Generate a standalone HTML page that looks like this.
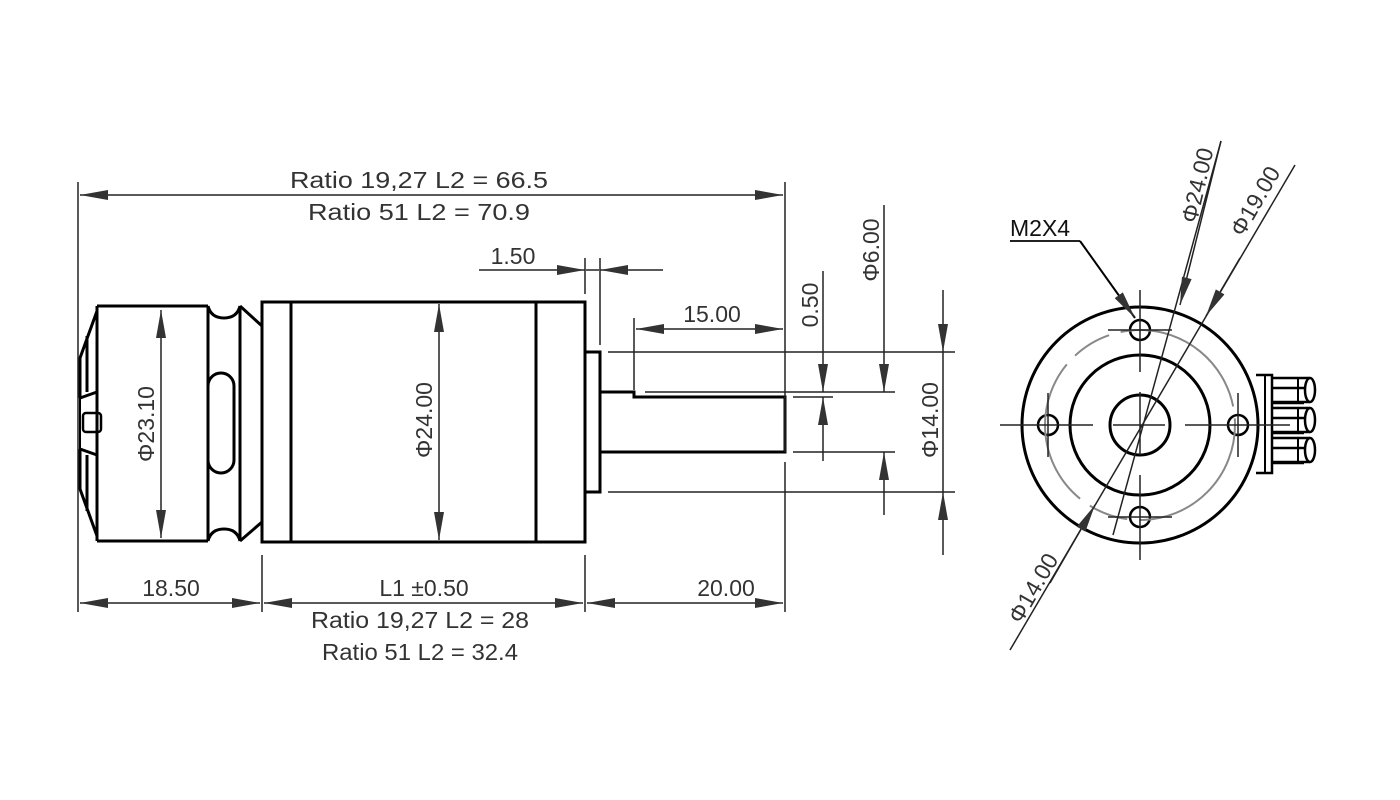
<!DOCTYPE html>
<html><head><meta charset="utf-8"><style>html,body{margin:0;padding:0;background:#fff}svg{display:block}text{font-family:"Liberation Sans",sans-serif;font-size:23px;fill:#333}</style></head>
<body>
<svg width="1400" height="800" viewBox="0 0 1400 800" xmlns="http://www.w3.org/2000/svg">
<defs>
<marker id="a" viewBox="0 0 28 10" refX="28" refY="5" markerWidth="28" markerHeight="10" markerUnits="userSpaceOnUse" orient="auto-start-reverse"><path d="M0,0L28,5L0,10z" fill="#333"/></marker>
</defs>
<g stroke="#000" stroke-width="3" fill="none">
<path d="M262,302 V542 M97,306 H208 M97,541 H208 M208,306 V541 M240,306 V541"/>
<path d="M208,306 Q211,318 224,318 Q237,318 240,306 M208,541 Q211,529 224,529 Q237,529 240,541"/>
<path d="M240,306 L262,326 M240,541 L262,522"/>
<rect x="208" y="373" width="26" height="100" rx="13"/>
<path d="M97,306 V541 M97,311 L80,358 V398 M97,311 V392 M87,336 V392 M80,398 L97,392"/>
<path d="M97,536 L80,489 V449 M97,536 V455 M87,511 V455 M80,449 L97,455"/>
<path d="M80,398 V449" stroke-width="2"/>
<rect x="83" y="413" width="18" height="19" rx="3" stroke-width="2.5"/>
<rect x="262" y="302" width="323" height="240"/>
<path d="M291,302 V542 M536,302 V542"/>
<rect x="585" y="352" width="15" height="140"/>
<path d="M600,392 H634 V397 H785 V452 H600"/>
<circle cx="1140" cy="425" r="118"/>
<circle cx="1140" cy="425" r="70"/>
<circle cx="1140" cy="425" r="30"/>
<circle cx="1140" cy="330" r="10" stroke-width="2.5"/>
<circle cx="1140" cy="517" r="10" stroke-width="2.5"/>
<circle cx="1048" cy="425" r="10" stroke-width="2.5"/>
<circle cx="1238" cy="425" r="10" stroke-width="2.5"/>
<path d="M1256,375 H1272 V473 H1256 M1272,388 H1304 M1272,403 H1304 M1272,418 H1304 M1272,433 H1304 M1272,448 H1304 M1272,463 H1304" stroke-width="2.5"/>
<path d="M1298,378 V403 M1298,408 V433 M1298,438 V463 M1265,375 V473" stroke-width="2"/>
<ellipse cx="1310" cy="390" rx="5" ry="12" stroke-width="2.5"/>
<ellipse cx="1310" cy="420" rx="5" ry="12" stroke-width="2.5"/>
<ellipse cx="1310" cy="450" rx="5" ry="12" stroke-width="2.5"/>
<path d="M1272,378 H1310 M1272,402 H1310 M1272,408 H1310 M1272,432 H1310 M1272,438 H1310 M1272,462 H1310" stroke-width="2.5"/>
</g>
<circle cx="1140" cy="425" r="95" stroke="#888" stroke-width="2" fill="none" stroke-dasharray="150 12 40 12"/>
<g stroke="#222" stroke-width="1.5" fill="none">
<path d="M1000,425 H1093 M1113,425 H1165 M1185,425 H1290 M1140,290 V372 M1140,392 V455 M1140,475 V560 M1108,330 H1172 M1108,517 H1172 M1048,393 V457 M1238,393 V457"/>
<path d="M78,182 V612 M785,182 V452 M785,462 V612 M262,555 V612 M585,555 V612 M585,258 V294 M600,258 V345"/>
<path d="M608,352 H955 M608,492 H955 M645,392 H895 M793,452 H895 M793,397 H833 M634,318 V390"/>
<path d="M80,195 H783" marker-start="url(#a)" marker-end="url(#a)"/>
<path d="M80,603 H260" marker-start="url(#a)" marker-end="url(#a)"/>
<path d="M264,603 H583" marker-start="url(#a)" marker-end="url(#a)"/>
<path d="M587,603 H783" marker-start="url(#a)" marker-end="url(#a)"/>
<path d="M636,329 H783" marker-start="url(#a)" marker-end="url(#a)"/>
<path d="M479,270 H585" marker-end="url(#a)"/>
<path d="M663,270 H600" marker-end="url(#a)"/>
<path d="M586,270 H599"/>
<path d="M161,310 V538" marker-start="url(#a)" marker-end="url(#a)"/>
<path d="M439,304 V540" marker-start="url(#a)" marker-end="url(#a)"/>
<path d="M823,271 V392" marker-end="url(#a)"/>
<path d="M823,461 V397" marker-end="url(#a)"/>
<path d="M884,205 V392" marker-end="url(#a)"/>
<path d="M884,515 V452" marker-end="url(#a)"/>
<path d="M943,290 V352" marker-end="url(#a)"/>
<path d="M943,555 V492" marker-end="url(#a)"/>
<path d="M943,352 V492"/>
<path d="M1221,141 L1113,535"/>
<path d="M1221,141 L1180,305" marker-end="url(#a)"/>
<path d="M1295,165 L1010,650"/>
<path d="M1240,258 L1206,316" marker-end="url(#a)"/>
<path d="M1050,583 L1095,505" marker-end="url(#a)"/>
<path d="M1010,241 H1080" stroke-width="2"/>
</g>
<path d="M1080,241 L1135,318" stroke="#000" stroke-width="2" fill="none" marker-end="url(#a)"/>
<g>
<text x="419" y="188" text-anchor="middle" textLength="258" lengthAdjust="spacingAndGlyphs">Ratio 19,27 L2 = 66.5</text>
<text x="419" y="220" text-anchor="middle" textLength="222" lengthAdjust="spacingAndGlyphs">Ratio 51 L2 = 70.9</text>
<text x="513" y="264" text-anchor="middle">1.50</text>
<text x="712" y="322" text-anchor="middle">15.00</text>
<text x="171" y="596" text-anchor="middle">18.50</text>
<text x="424" y="596" text-anchor="middle">L1 ±0.50</text>
<text x="420" y="628" text-anchor="middle" textLength="218" lengthAdjust="spacingAndGlyphs">Ratio 19,27 L2 = 28</text>
<text x="420" y="660" text-anchor="middle" textLength="196" lengthAdjust="spacingAndGlyphs">Ratio 51 L2 = 32.4</text>
<text x="726" y="596" text-anchor="middle">20.00</text>
<text transform="translate(154,424) rotate(-90)" text-anchor="middle">Φ23.10</text>
<text transform="translate(432,420) rotate(-90)" text-anchor="middle">Φ24.00</text>
<text transform="translate(818,305) rotate(-90)" text-anchor="middle">0.50</text>
<text transform="translate(879,250) rotate(-90)" text-anchor="middle">Φ6.00</text>
<text transform="translate(938,420) rotate(-90)" text-anchor="middle">Φ14.00</text>
<text x="1010" y="236" style="fill:#111">M2X4</text>
<text transform="translate(1205,187) rotate(-77)" text-anchor="middle">Φ24.00</text>
<text transform="translate(1262,205) rotate(-60)" text-anchor="middle">Φ19.00</text>
<text transform="translate(1040,592) rotate(-60)" text-anchor="middle">Φ14.00</text>
</g>
</svg>
</body></html>
